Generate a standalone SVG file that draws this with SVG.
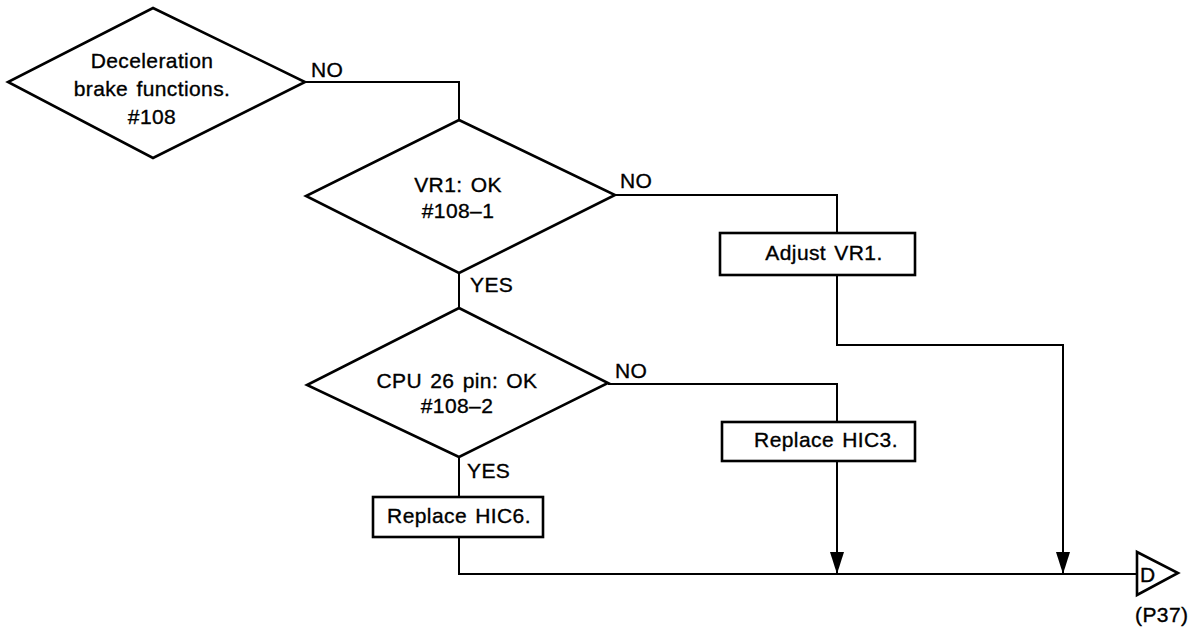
<svg xmlns="http://www.w3.org/2000/svg" width="1193" height="630" viewBox="0 0 1193 630">
<defs>
<marker id="arr" viewBox="0 0 22 14" refX="22" refY="7" markerWidth="22" markerHeight="14" markerUnits="userSpaceOnUse" orient="auto">
<path d="M0,0 L22,7 L0,14 Z" fill="#000"/>
</marker>
</defs>
<style>
.shape{fill:#fff;stroke:#000;stroke-width:2.6;stroke-linejoin:miter}
.line{fill:none;stroke:#000;stroke-width:2}
text{font-family:"Liberation Sans",Arial,Helvetica,sans-serif;font-size:21px;fill:#000;stroke:#000;stroke-width:0.35;letter-spacing:0.4px;word-spacing:2px}
.c{text-anchor:middle}
</style>
<rect width="1193" height="630" fill="#fff"/>
<g id="connectors">
<polyline class="line" points="305,82 459,82 459,120"/>
<line class="line" x1="459" y1="273" x2="459" y2="308"/>
<line class="line" x1="459" y1="457" x2="459" y2="497"/>
<polyline class="line" points="615,195 837,195 837,233"/>
<polyline class="line" points="608,384 837,384 837,422"/>
<polyline class="line" points="459,537 459,574 1137,574"/>
<line class="line" x1="837" y1="461" x2="837" y2="574" marker-end="url(#arr)"/>
<polyline class="line" points="837,275 837,345 1063,345 1063,574" marker-end="url(#arr)"/>
<text x="311" y="77">NO</text>
<text x="620" y="188">NO</text>
<text x="470" y="292">YES</text>
<text x="615" y="378">NO</text>
<text x="467" y="478">YES</text>
</g>
<g id="decision-108">
<polygon class="shape" points="153,8 305,82 153,158 8,82"/>
<text class="c" x="152" y="68">Deceleration</text>
<text class="c" x="152" y="96">brake functions.</text>
<text class="c" x="152" y="124">#108</text>
</g>
<g id="decision-108-1">
<polygon class="shape" points="459,120 615,195 459,273 306,196"/>
<text class="c" x="458" y="192">VR1: OK</text>
<text class="c" x="458" y="218">#108‒1</text>
</g>
<g id="decision-108-2">
<polygon class="shape" points="459,308 608,383 459,457 307,385"/>
<text class="c" x="457" y="388">CPU 26 pin: OK</text>
<text class="c" x="457" y="413">#108‒2</text>
</g>
<g id="adjust-vr1">
<rect class="shape" x="720" y="233" width="195" height="42"/>
<text class="c" x="824" y="260">Adjust VR1.</text>
</g>
<g id="replace-hic3">
<rect class="shape" x="722" y="422" width="193" height="39"/>
<text class="c" x="826" y="447">Replace HIC3.</text>
</g>
<g id="replace-hic6">
<rect class="shape" x="373" y="497" width="170" height="40"/>
<text class="c" x="459" y="523">Replace HIC6.</text>
</g>
<g id="connector-d">
<polygon class="shape" points="1137,552 1178,573 1137,595"/>
<text x="1140" y="582">D</text>
<text x="1135" y="622">(P37)</text>
</g>
</svg>
